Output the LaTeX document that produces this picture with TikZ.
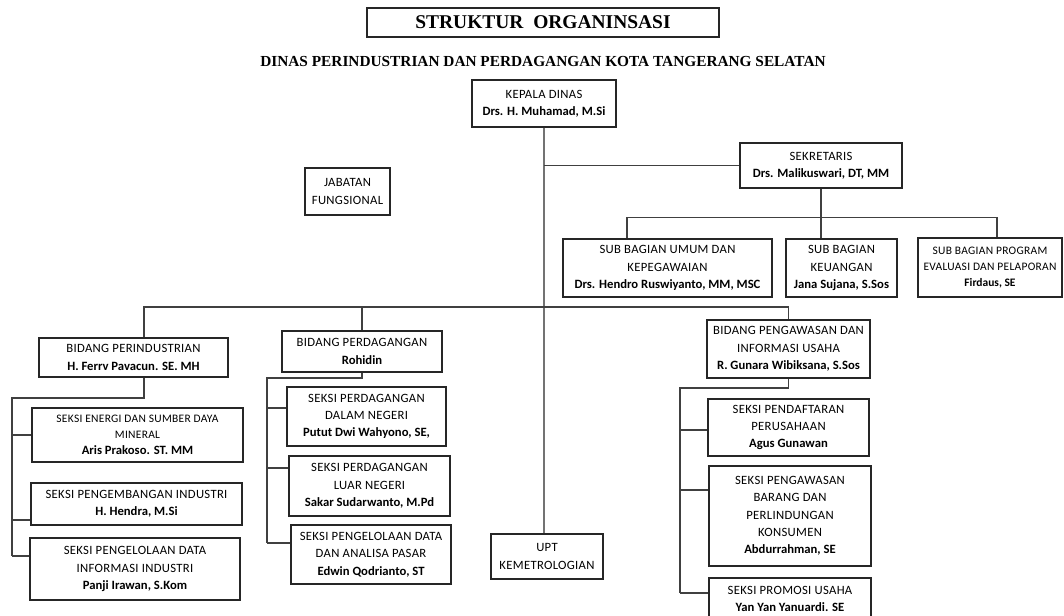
\documentclass[tikz,border=0pt]{standalone}
\usepackage{fontspec}
\setmainfont{Carlito}[LetterSpace=2.5, BoldFeatures={LetterSpace=0}]
\newfontfamily\titlefont{Liberation Serif}
\usetikzlibrary{positioning,calc}

\begin{document}
\begin{tikzpicture}[x=0.75pt, y=-0.75pt,
  box/.style={draw=black!85, line width=0.8pt, align=center, inner sep=2pt,
    font=\fontsize{9.5}{13}\selectfont},
  boxs/.style={box, font=\fontsize{8.6}{12}\selectfont},
  sz/.style 2 args={minimum width=#1*0.75pt, minimum height=#2*0.75pt},
  link/.style={draw=black!75, line width=0.8pt},
  spine/.style={draw=black!55, line width=1.1pt}
]
  \useasboundingbox (0,0) rectangle (1064,616);
  \clip (0,0) rectangle (1064,616);

  % judul
  \node[draw=black!85, line width=0.8pt, sz={352}{29}] (judul) at (543,22.5)
    {\titlefont\fontsize{14.6}{16}\selectfont\bfseries STRUKTUR\ \ ORGANINSASI};
  \node (subjudul) at (543,62)
    {\titlefont\fontsize{11.5}{13}\selectfont\bfseries DINAS PERINDUSTRIAN DAN PERDAGANGAN KOTA TANGERANG SELATAN};

  % pimpinan dan sekretariat
  \node[box, sz={144}{47}] (kadis) at (544,103.5) {KEPALA DINAS\\\textbf{Drs. H. Muhamad, M.Si}};
  \node[box, sz={162}{45}] (sekr) at (821,165.5) {SEKRETARIS\\\textbf{Drs. Malikuswari, DT, MM}};
  \node[box, sz={85}{47}] (jabfung) at (347.5,191.5) {JABATAN\\FUNGSIONAL};
  \node[box, sz={209}{58}] (umum) at (667.5,268)
    {SUB BAGIAN UMUM DAN\\KEPEGAWAIAN\\\textbf{Drs. Hendro Ruswiyanto, MM, MSC}};
  \node[box, sz={111}{58}] (keu) at (841.5,268) {SUB BAGIAN\\KEUANGAN\\\textbf{Jana Sujana, S.Sos}};
  \node[boxs, sz={144}{59}] (prog) at (990,267.5)
    {SUB BAGIAN PROGRAM\\EVALUASI DAN PELAPORAN\\\textbf{Firdaus, SE}};

  % bidang
  \node[box, sz={189}{39}] (bind) at (133.5,357.5) {BIDANG PERINDUSTRIAN\\\textbf{H. Ferrv Pavacun. SE. MH}};
  \node[box, sz={160}{41}] (bdag) at (362,351.5) {BIDANG PERDAGANGAN\\\textbf{Rohidin}};
  \node[box, sz={163}{58}] (bpeng) at (788.5,349)
    {BIDANG PENGAWASAN DAN\\INFORMASI USAHA\\\textbf{R. Gunara Wibiksana, S.Sos}};
  \node[box, sz={112}{45}] (upt) at (547,556.5) {UPT\\KEMETROLOGIAN};

  % seksi bidang perindustrian
  \node[boxs, sz={211}{54}] (senergi) at (137.5,435)
    {SEKSI ENERGI DAN SUMBER DAYA\\MINERAL\\{\fontsize{9.5}{12}\selectfont\textbf{Aris Prakoso. ST. MM}}};
  \node[box, sz={211}{42}] (sbang) at (136.5,504) {SEKSI PENGEMBANGAN INDUSTRI\\\textbf{H. Hendra, M.Si}};
  \node[box, sz={210}{62}] (sdata) at (135,569)
    {SEKSI PENGELOLAAN DATA\\INFORMASI INDUSTRI\\\textbf{Panji Irawan, S.Kom}};

  % seksi bidang perdagangan
  \node[box, sz={159}{59}] (sdn) at (366.5,416.5)
    {SEKSI PERDAGANGAN\\DALAM NEGERI\\\textbf{Putut Dwi Wahyono, SE,}};
  \node[box, sz={161}{60}] (sln) at (369.5,486)
    {SEKSI PERDAGANGAN\\LUAR NEGERI\\\textbf{Sakar Sudarwanto, M.Pd}};
  \node[box, sz={160}{59}] (spasar) at (371,554.5)
    {SEKSI PENGELOLAAN DATA\\DAN ANALISA PASAR\\\textbf{Edwin Qodrianto, ST}};

  % seksi bidang pengawasan
  \node[box, sz={161}{57}] (sdaftar) at (788.5,427.5)
    {SEKSI PENDAFTARAN\\PERUSAHAAN\\\textbf{Agus Gunawan}};
  \node[box, sz={162}{100}] (sbarang) at (790,516)
    {SEKSI PENGAWASAN\\BARANG DAN\\PERLINDUNGAN\\KONSUMEN\\\textbf{Abdurrahman, SE}};
  \node[box, sz={162}{42}] (spromosi) at (790,599)
    {SEKSI PROMOSI USAHA\\\textbf{Yan Yan Yanuardi. SE}};

  % garis atas
  \draw[spine] (kadis.south) -- (kadis.south |- upt.north);
  \draw[link] (kadis.south |- sekr.west) -- (sekr.west);
  \draw[link] (sekr.south) -- (sekr.south |- keu.north);
  \coordinate (subbus) at ($(sekr.south)+(0,29)$);
  \draw[link] ($(umum.north)+(-40.5,0)$) |- (subbus) -| ($(prog.north)+(7,0)$);

  % garis bidang
  \coordinate (bus) at (544,307);
  \draw[link] ($(bind.north)+(10.5,0)$) |- (bus) -| (bpeng.north);
  \draw[link] (bdag.north) -- (bdag.north |- bus);

  % garis seksi perindustrian
  \coordinate (spine1) at (12,398);
  \draw[link] ($(bind.south)+(10.5,0)$) |- (spine1) -- (spine1 |- 0,556);
  \draw[link] (spine1 |- senergi.west) -- (senergi.west);
  \draw[link] ($(sbang.west)+(0,16)$) -- (spine1 |- 0,520);
  \draw[link] ($(sdata.west)+(0,-13)$) -- (spine1 |- 0,556);

  % garis seksi perdagangan
  \coordinate (spine2) at (267,378);
  \draw[link] (bdag.south) |- (spine2) -- (spine2 |- 0,543);
  \draw[link] ($(sdn.west)+(0,-8.5)$) -- (spine2 |- 0,408);
  \draw[link] ($(sln.west)+(0,-18)$) -- (spine2 |- 0,468);
  \draw[link] ($(spasar.west)+(0,-11.5)$) -- (spine2 |- 0,543);

  % garis seksi pengawasan
  \coordinate (spine3) at (680,388);
  \draw[link] (bpeng.south) |- (spine3) -- (spine3 |- 0,593);
  \draw[link] ($(sdaftar.west)+(0,2.5)$) -- (spine3 |- 0,430);
  \draw[link] ($(sbarang.west)+(0,-26)$) -- (spine3 |- 0,490);
  \draw[link] ($(spromosi.west)+(0,-6)$) -- (spine3 |- 0,593);
\end{tikzpicture}
\end{document}
